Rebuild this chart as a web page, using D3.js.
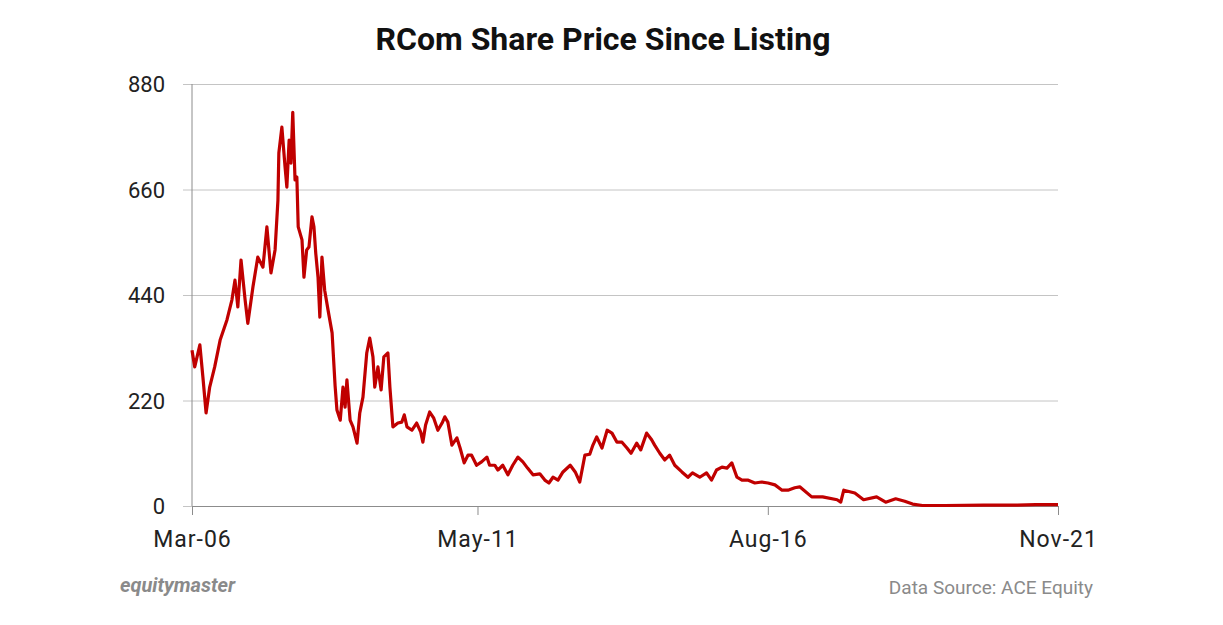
<!DOCTYPE html>
<html>
<head>
<meta charset="utf-8">
<title>RCom Share Price Since Listing</title>
<script src="https://cdnjs.cloudflare.com/ajax/libs/d3/7.8.5/d3.min.js"></script>
<style>
  html, body { margin: 0; padding: 0; background: #fff; }
  #chart { width: 1223px; height: 625px; }
  .title { font-family: Roboto, "Noto Sans", sans-serif; font-weight: 700; font-size: 32px; fill: #111; }
  .axis text { font-family: Roboto, "Noto Sans", sans-serif; font-size: 22px; fill: #222; }
  .x.axis text { font-size: 23px; letter-spacing: 1px; }
  .axis path, .axis line { stroke: #8c8c8c; }
  .yGrid line { stroke: #c4c4c4; }
  .yGrid path { display: none; }
  .line { fill: none; stroke: #c00000; stroke-width: 3.2; stroke-linejoin: round; }
  .brand { font-family: Roboto, "Noto Sans", sans-serif; font-weight: 700; font-style: italic; font-size: 20px; fill: #8a8a8a; }
  .source { font-family: Roboto, "Noto Sans", sans-serif; font-size: 19px; fill: #8a8a8a; }
</style>
</head>
<body>
<div id="chart"></div>
<script>
/* global d3 */

// price readings (Rs) taken off the original chart, one line per year
const dates = [
  "2006-03-01", "2006-03-19", "2006-04-22", "2006-05-12", "2006-06-02", "2006-06-26", "2006-07-29", "2006-09-03", "2006-10-18", "2006-11-20", "2006-12-10", "2006-12-29",
  "2007-01-19", "2007-02-15", "2007-03-05", "2007-04-08", "2007-05-10", "2007-06-13", "2007-07-09", "2007-08-05", "2007-09-01", "2007-09-20", "2007-09-26", "2007-10-16", "2007-11-06", "2007-11-18", "2007-12-03", "2007-12-15", "2007-12-27",
  "2008-01-11", "2008-01-23", "2008-02-01", "2008-02-26", "2008-03-10", "2008-03-28", "2008-04-12", "2008-05-02", "2008-05-15", "2008-05-27", "2008-06-11", "2008-06-23", "2008-07-07", "2008-07-25", "2008-08-16", "2008-09-12", "2008-10-02", "2008-10-14", "2008-11-05", "2008-11-23", "2008-12-07", "2008-12-19",
  "2009-01-09", "2009-01-28", "2009-02-24", "2009-03-14", "2009-04-04", "2009-04-29", "2009-05-19", "2009-06-09", "2009-06-21", "2009-07-12", "2009-08-02", "2009-08-20", "2009-09-16", "2009-09-29", "2009-10-19", "2009-11-21", "2009-12-17",
  "2010-01-02", "2010-01-20", "2010-02-22", "2010-03-25", "2010-04-21", "2010-05-05", "2010-05-23", "2010-06-19", "2010-07-16", "2010-08-12", "2010-09-09", "2010-09-27", "2010-10-17", "2010-11-13", "2010-12-16",
  "2011-01-06", "2011-02-02", "2011-02-27", "2011-03-23", "2011-04-25", "2011-05-28", "2011-07-02", "2011-07-20", "2011-08-23", "2011-09-13", "2011-10-15", "2011-11-18", "2011-12-20",
  "2012-01-23", "2012-02-25", "2012-03-27", "2012-05-02", "2012-06-16", "2012-07-19", "2012-08-15", "2012-09-11", "2012-10-14", "2012-11-16",
  "2013-01-03", "2013-02-05", "2013-03-07", "2013-04-10", "2013-05-12", "2013-06-02", "2013-06-27", "2013-08-01", "2013-09-04", "2013-10-06", "2013-11-08", "2013-12-11",
  "2014-01-13", "2014-02-09", "2014-03-18", "2014-04-14", "2014-05-23", "2014-06-25", "2014-07-15", "2014-08-18", "2014-09-20", "2014-10-22", "2014-11-25",
  "2015-01-11", "2015-02-20", "2015-03-22", "2015-05-09", "2015-06-23", "2015-07-26", "2015-08-28", "2015-10-03", "2015-11-05", "2015-12-07",
  "2016-01-10", "2016-02-12", "2016-03-21", "2016-05-07", "2016-06-22", "2016-08-02", "2016-09-17", "2016-11-03", "2016-12-12",
  "2017-01-26", "2017-02-28", "2017-05-18", "2017-07-29", "2017-11-02", "2017-11-26", "2017-12-16",
  "2018-02-27", "2018-04-26", "2018-07-21", "2018-09-19", "2018-11-24",
  "2019-01-23", "2019-03-16", "2019-05-20", "2019-10-14",
  "2020-06-27", "2020-10-24",
  "2021-02-04", "2021-06-07", "2021-11-01"
];

const prices = [
  325, 290, 336, 269, 194, 248, 290, 346, 388, 430, 471, 415,
  513, 430, 381, 457, 519, 498, 582, 486, 534, 638, 736, 790, 707, 665, 763, 715, 821,
  680, 686, 582, 555, 477, 534, 540, 603, 582, 527, 477, 394, 519, 450, 409, 361, 250, 200, 179, 248, 206, 263,
  179, 165, 131, 194, 227, 319, 350, 311, 248, 290, 242, 311, 319, 248, 165, 173, 175,
  190, 165, 158, 173, 154, 133, 169, 196, 183, 158, 173, 186, 175, 127, 142,
  121, 90, 106, 106, 85, 92, 102, 85, 85, 75, 85, 65, 85,
  102, 92, 79, 65, 67, 54, 48, 60, 54, 71,
  85, 71, 50, 106, 108, 127, 144, 121, 158, 152, 133, 133,
  121, 110, 131, 117, 152, 138, 127, 110, 96, 106, 85,
  71, 60, 69, 60, 69, 54, 75, 81, 79, 90,
  60, 54, 54, 48, 50, 48, 44, 33, 33,
  38, 40, 19, 19, 13, 8, 33,
  27, 13, 19, 8, 15,
  10, 4, 1, 1,
  2, 2,
  2, 3, 3
];

const xTickDates = ["2006-03-01", "2011-05-01", "2016-08-01", "2021-11-01"];
const xTickLabels = ["Mar-06", "May-11", "Aug-16", "Nov-21"];
const yTicks = [0, 220, 440, 660, 880];

const titleText = "RCom Share Price Since Listing";
const brandText = "equitymaster";
const sourceText = "Data Source: ACE Equity";

(() => {
  'use strict';

  const size = { width: 1223, height: 625 };
  const margin = { top: 84, right: 165, bottom: 119, left: 192 };
  const width = size.width - margin.left - margin.right;
  const height = size.height - margin.top - margin.bottom;

  const parse = d3.timeParse("%Y-%m-%d");
  const series = dates.map((d, i) => ({ x: parse(d), y: prices[i] }));

  const xScale = d3.scaleTime()
    .domain([parse(xTickDates[0]), parse(xTickDates[xTickDates.length - 1])])
    .range([0, width]);
  const yScale = d3.scaleLinear()
    .domain([0, 880])
    .range([height, 0]);

  const svg = d3.select("#chart").append("svg")
    .attr("width", size.width)
    .attr("height", size.height);

  svg.append("text")
    .attr("class", "title")
    .attr("text-anchor", "middle")
    .attr("x", 603)
    .attr("y", 50)
    .text(titleText);

  const graph = svg.append("g")
    .attr("transform", "translate(" + margin.left + "," + margin.top + ")");

  // horizontal grid, sticking out a little left of the axis like tick marks
  graph.append("g")
    .attr("class", "yGrid")
    .call(d3.axisLeft(yScale).tickValues(yTicks).tickSize(-width).tickFormat(""))
    .call(g => g.selectAll("line").attr("x1", -9));

  const yAxis = graph.append("g")
    .attr("class", "y axis")
    .call(d3.axisLeft(yScale).tickValues(yTicks).tickSize(0).tickPadding(27));
  yAxis.select(".domain").remove();
  yAxis.selectAll("text").attr("dy", "0.36em");

  graph.append("line")
    .attr("class", "yLine")
    .attr("x1", 0).attr("x2", 0)
    .attr("y1", 0).attr("y2", height)
    .attr("stroke", "#8c8c8c");

  const xAxis = graph.append("g")
    .attr("class", "x axis")
    .attr("transform", "translate(0," + height + ")")
    .call(d3.axisBottom(xScale)
      .tickValues(xTickDates.map(parse))
      .tickFormat((d, i) => xTickLabels[i])
      .tickSize(9)
      .tickSizeOuter(0)
      .tickPadding(16));
  xAxis.selectAll("text").attr("dy", "0.71em");

  const line = d3.line()
    .x(d => xScale(d.x))
    .y(d => yScale(d.y));

  graph.append("path")
    .datum(series)
    .attr("class", "line")
    .attr("d", line);

  svg.append("text")
    .attr("class", "brand")
    .attr("x", 120)
    .attr("y", 592)
    .text(brandText);

  svg.append("text")
    .attr("class", "source")
    .attr("text-anchor", "end")
    .attr("x", 1093)
    .attr("y", 594)
    .text(sourceText);
})();
</script>
</body>
</html>
